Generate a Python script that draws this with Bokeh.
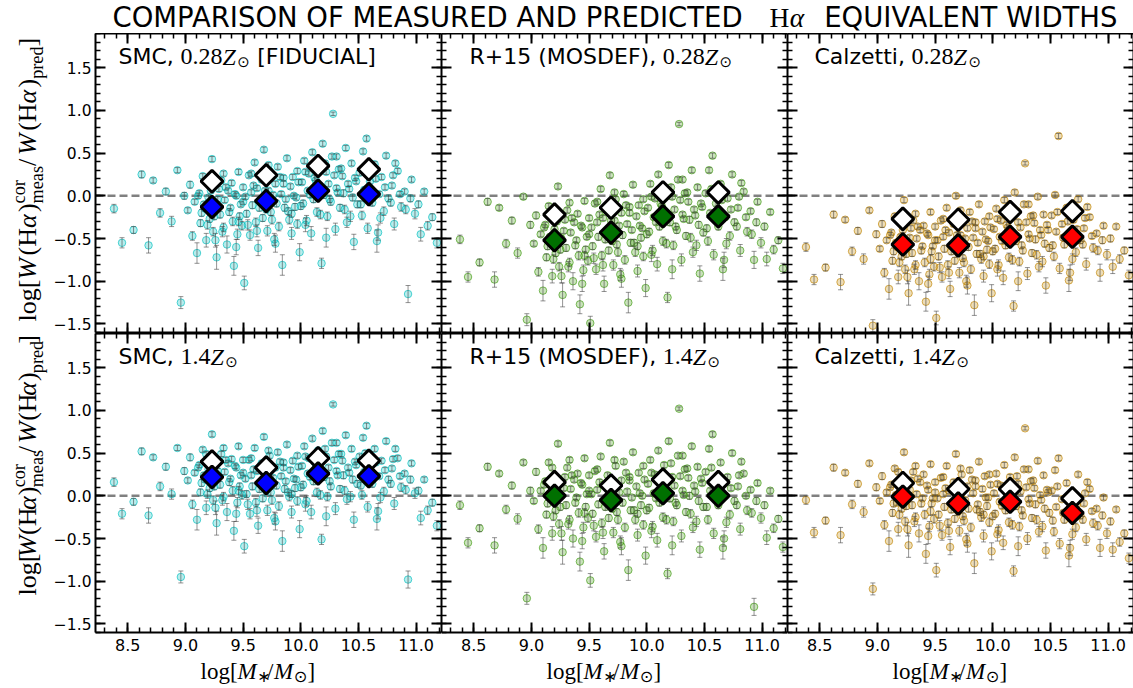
import math
from bokeh.plotting import figure
from bokeh.layouts import gridplot, column
from bokeh.models import (ColumnDataSource, FixedTicker, LinearAxis, Range1d,
                          Label, Span, CustomJSTickFormatter)
from bokeh.embed import file_html
from bokeh.resources import INLINE

# ------------------------------------------------------------------ data
log_mass = [8.38, 8.45, 8.55, 8.62, 8.68, 8.72, 8.78, 8.83, 8.88, 8.93, 8.96, 8.99,
            9.02, 9.04, 9.06, 9.08, 9.10, 9.12, 9.13, 9.15, 9.17, 9.18, 9.20, 9.21, 9.23, 9.24, 9.26,
            9.27, 9.29, 9.30, 9.31, 9.33, 9.34, 9.36, 9.37, 9.38, 9.40, 9.41, 9.42, 9.44, 9.45, 9.46,
            9.47, 9.48, 9.49, 9.50, 9.51,
            9.52, 9.53, 9.55, 9.56, 9.57, 9.58, 9.60, 9.61, 9.62, 9.63, 9.65, 9.66, 9.67, 9.68, 9.70,
            9.71, 9.72, 9.73, 9.74, 9.76, 9.77, 9.78, 9.79, 9.80, 9.81, 9.83, 9.84, 9.85, 9.86, 9.87,
            9.88, 9.90, 9.91, 9.92, 9.93, 9.95, 9.96, 9.97, 9.98, 9.99,
            10.01, 10.02, 10.03, 10.05, 10.06, 10.07, 10.09, 10.10, 10.11, 10.12, 10.14, 10.15, 10.16,
            10.18, 10.19, 10.20, 10.22, 10.23, 10.24, 10.26, 10.27, 10.28, 10.30, 10.31, 10.33, 10.34,
            10.36, 10.37, 10.39, 10.40, 10.42, 10.44, 10.46, 10.48, 10.49,
            10.51, 10.53, 10.55, 10.57, 10.58, 10.60, 10.62, 10.64, 10.66, 10.68, 10.70, 10.72, 10.74,
            10.76, 10.79, 10.81, 10.84, 10.87, 10.90, 10.93, 10.96, 10.99,
            11.02, 11.04, 11.07, 11.10, 11.14, 11.18,
            9.11, 9.14, 9.16, 9.19, 9.22, 9.25, 9.28, 9.32, 9.35, 9.39, 9.43, 9.46, 9.50,
            9.54, 9.59, 9.64, 9.69, 9.75, 9.82, 9.89, 9.94,
            10.00, 10.04, 10.08, 10.13, 10.17, 10.21, 10.25, 10.29, 10.32, 10.35, 10.38, 10.41, 10.45, 10.47,
            10.52, 10.56, 10.61, 10.65, 10.69, 10.73, 10.78, 10.82, 10.86, 10.91,
            9.18, 9.26, 9.33, 9.44, 9.57, 9.62, 9.72, 9.78, 9.85, 9.92, 9.97,
            10.04, 10.13, 10.22, 10.31, 10.43, 10.54, 10.67, 10.80, 10.95]

y_err = [0.05, 0.06, 0.04, 0.04, 0.09, 0.03, 0.05, 0.04, 0.06, 0.03, 0.07, 0.04,
         0.03, 0.04, 0.05, 0.03, 0.12, 0.03, 0.04, 0.03, 0.03, 0.08, 0.03, 0.04, 0.03, 0.05, 0.03,
         0.14, 0.03, 0.04, 0.03, 0.05, 0.03, 0.10, 0.03, 0.04, 0.03, 0.05, 0.11, 0.03, 0.06, 0.03,
         0.04, 0.03, 0.05, 0.03, 0.08,
         0.03, 0.04, 0.03, 0.06, 0.03, 0.04, 0.03, 0.05, 0.03, 0.09, 0.03, 0.03, 0.04, 0.03, 0.04,
         0.06, 0.03, 0.03, 0.04, 0.03, 0.07, 0.03, 0.04, 0.03, 0.05, 0.03, 0.12, 0.03, 0.04, 0.03,
         0.03, 0.05, 0.03, 0.07, 0.03, 0.04, 0.03, 0.05, 0.03, 0.10,
         0.03, 0.04, 0.03, 0.06, 0.03, 0.03, 0.08, 0.03, 0.04, 0.03, 0.05, 0.03, 0.03, 0.06, 0.03,
         0.04, 0.03, 0.05, 0.03, 0.04, 0.03, 0.02, 0.07, 0.03, 0.03, 0.04, 0.03, 0.04, 0.03, 0.06,
         0.03, 0.03, 0.09, 0.03, 0.04,
         0.03, 0.05, 0.03, 0.03, 0.06, 0.03, 0.04, 0.03, 0.13, 0.03, 0.03, 0.05, 0.03, 0.04, 0.03,
         0.07, 0.03, 0.05, 0.03, 0.10, 0.03, 0.06,
         0.04, 0.08, 0.03, 0.05, 0.04, 0.06,
         0.03, 0.04, 0.03, 0.05, 0.03, 0.04, 0.03, 0.06, 0.03, 0.03, 0.03, 0.05, 0.03,
         0.06, 0.03, 0.04, 0.03, 0.05, 0.03, 0.04, 0.03,
         0.04, 0.03, 0.03, 0.03, 0.05, 0.03, 0.04, 0.03, 0.03, 0.03, 0.05, 0.03, 0.04, 0.03,
         0.04, 0.03, 0.03, 0.03, 0.06, 0.03, 0.04, 0.03, 0.03, 0.05,
         0.03, 0.08, 0.03, 0.09, 0.03, 0.07, 0.03, 0.10, 0.03, 0.04, 0.03,
         0.08, 0.03, 0.11, 0.03, 0.06, 0.03, 0.09, 0.03, 0.04]

y_smc_028 = [-0.15, -0.55, -0.40, 0.25, -0.58, 0.18, -0.20, 0.05, -0.30, 0.30, -1.25, 0.00,
             -0.17, 0.13, -0.47, -0.07, -0.67, 0.03, -0.32, 0.23, -0.15, -0.52, -0.02, -0.27, 0.43,
             -0.42, -0.12, -0.72, 0.08, -0.22, 0.18, -0.37, -0.05, -0.57, 0.06, -0.19, 0.15, -0.30,
             -0.82, 0.00, -0.45, 0.28, -0.24, -0.10, -0.35, 0.10, -1.02,
             -0.01, -0.21, 0.24, -0.46, 0.04, -0.11, 0.39, -0.31, 0.09, -0.61, -0.06, 0.19, -0.26,
             0.54, -0.16, -0.41, 0.06, 0.29, -0.19, 0.01, -0.51, 0.14, -0.09, 0.34, -0.36, 0.02,
             -0.81, 0.21, -0.14, -0.04, 0.44, -0.28, 0.11, -0.44, 0.22, -0.13, -0.02, -0.33, 0.16, -0.66,
             0.16, -0.09, 0.41, -0.29, 0.06, 0.26, -0.44, 0.51, -0.04, 0.21, -0.19, 0.36, 0.11, -0.79,
             0.61, 0.01, 0.28, -0.24, 0.14, -0.07, 0.46, 0.96, -0.39, 0.09, 0.31, -0.14, 0.23, 0.03,
             0.56, -0.31, 0.08, 0.38, -0.54, 0.17, -0.10,
             0.27, -0.23, 0.07, 0.67, -0.38, 0.17, -0.08, 0.37, -0.53, 0.02, 0.22, -0.18, 0.47, -0.03,
             0.12, -0.33, 0.29, -0.13, 0.05, -1.15, 0.19, -0.21,
             -0.10, -0.45, 0.05, -0.35, -0.25, -0.55,
             0.00, -0.20, -0.10, -0.34, 0.06, -0.24, -0.04, -0.42, 0.10, -0.14, 0.02, -0.30, -0.07,
             -0.34, 0.12, -0.14, 0.06, -0.28, 0.22, -0.18, 0.00,
             -0.12, 0.28, 0.01, 0.18, -0.22, 0.38, -0.04, 0.24, 0.04, 0.32, -0.16, 0.14, -0.02, 0.21,
             -0.10, 0.32, 0.00, 0.20, -0.26, 0.10, -0.08, 0.38, 0.02, -0.16,
             0.18, -0.52, 0.26, -0.60, 0.26, -0.41, 0.36, -0.56, 0.14, -0.21, 0.29,
             -0.34, 0.11, -0.49, 0.46, -0.24, 0.52, -0.43, 0.24, -0.03]

y_r15_028 = [-0.51, -0.95, -0.78, -0.07, -0.98, -0.14, -0.56, -0.29, -0.67, -0.01, -1.45, -0.34,
             -0.56, -0.23, -0.89, -0.45, -1.11, -0.34, -0.72, -0.12, -0.53, -0.94, -0.39, -0.67, 0.11,
             -0.83, -0.50, -1.16, -0.28, -0.61, -0.17, -0.78, -0.43, -1.00, -0.31, -0.58, -0.21, -0.70,
             -1.27, -0.37, -0.87, -0.06, -0.63, -0.48, -0.76, -0.26, -1.49,
             -0.37, -0.59, -0.09, -0.86, -0.31, -0.48, 0.08, -0.70, -0.26, -1.03, -0.42, -0.15, -0.64,
             0.24, -0.53, -0.81, -0.29, -0.04, -0.57, -0.35, -0.92, -0.20, -0.46, 0.02, -0.75, -0.33,
             -1.25, -0.13, -0.55, -0.40, 0.13, -0.66, -0.24, -0.88, -0.11, -0.49, -0.38, -0.71, -0.18, -1.08,
             -0.14, -0.42, 0.14, -0.64, -0.25, -0.03, -0.80, 0.25, -0.36, -0.09, -0.53, 0.08, -0.20, -1.19,
             0.36, -0.31, -0.01, -0.58, -0.16, -0.40, 0.19, 0.84, -0.75, -0.22, 0.03, -0.47, -0.07, -0.28,
             0.30, -0.66, -0.23, 0.10, -0.91, -0.13, -0.43,
             0.03, -0.53, -0.20, 0.47, -0.69, -0.09, -0.36, 0.14, -0.86, -0.25, -0.03, -0.47, 0.25, -0.31,
             -0.14, -0.64, 0.05, -0.42, -0.18, -0.75, -0.07, -0.55,
             -0.36, -0.74, -0.19, -0.63, -0.52, -0.85,
             -0.37, -0.59, -0.48, -0.74, -0.30, -0.63, -0.41, -0.83, -0.26, -0.52, -0.35, -0.70, -0.45,
             -0.73, -0.22, -0.51, -0.29, -0.66, -0.11, -0.55, -0.35,
             -0.45, -0.01, -0.31, -0.12, -0.56, 0.10, -0.36, -0.05, -0.27, 0.04, -0.49, -0.16, -0.34, -0.09,
             -0.38, 0.08, -0.27, -0.05, -0.56, -0.16, -0.36, 0.15, -0.25, -0.45,
             -0.17, -0.94, -0.08, -1.03, -0.07, -0.81, 0.04, -0.97, -0.20, -0.59, -0.04,
             -0.69, -0.20, -0.86, 0.19, -0.58, 0.30, -0.75, -0.01, -0.31]

y_calz_028 = [-0.60, -0.98, -0.84, -0.22, -1.01, -0.28, -0.65, -0.41, -0.74, -0.17, -1.52, -0.45,
              -0.62, -0.33, -0.90, -0.52, -1.09, -0.43, -0.76, -0.24, -0.60, -0.95, -0.48, -0.71, -0.05,
              -0.86, -0.57, -1.14, -0.38, -0.67, -0.29, -0.81, -0.50, -1.00, -0.40, -0.64, -0.35, -0.78,
              -1.24, -0.46, -0.92, -0.19, -0.65, -0.59, -0.83, -0.36, -1.43,
              -0.52, -0.71, -0.29, -0.95, -0.48, -0.62, -0.14, -0.81, -0.43, -1.09, -0.57, -0.33, -0.76,
              0.00, -0.67, -0.90, -0.46, -0.24, -0.73, -0.50, -1.00, -0.38, -0.60, -0.19, -0.86, -0.49,
              -1.28, -0.31, -0.68, -0.55, -0.10, -0.74, -0.42, -0.94, -0.30, -0.63, -0.53, -0.80, -0.37, -1.14,
              -0.39, -0.62, -0.15, -0.81, -0.48, -0.29, -0.96, -0.05, -0.58, -0.34, -0.72, -0.20, -0.43, -1.29,
              0.04, -0.53, -0.31, -0.77, -0.37, -0.64, -0.10, 0.38, -0.91, -0.45, -0.24, -0.67, -0.32, -0.51,
              -0.01, -0.83, -0.46, -0.22, -1.05, -0.40, -0.61,
              -0.23, -0.71, -0.42, 0.70, -0.85, -0.33, -0.57, -0.14, -0.99, -0.47, -0.28, -0.66, -0.04, -0.52,
              -0.38, -0.80, -0.25, -0.61, -0.44, -0.90, -0.35, -0.69,
              -0.50, -0.83, -0.36, -0.74, -0.64, -0.93,
              -0.46, -0.65, -0.55, -0.78, -0.40, -0.68, -0.49, -0.86, -0.36, -0.59, -0.44, -0.74, -0.52,
              -0.84, -0.40, -0.65, -0.46, -0.78, -0.30, -0.68, -0.51,
              -0.65, -0.27, -0.53, -0.37, -0.75, -0.18, -0.58, -0.31, -0.50, -0.23, -0.69, -0.40, -0.56, -0.34,
              -0.58, -0.19, -0.49, -0.30, -0.74, -0.39, -0.57, -0.13, -0.47, -0.64,
              -0.29, -0.95, -0.21, -1.03, -0.27, -0.90, -0.17, -1.05, -0.38, -0.71, -0.24,
              -0.86, -0.43, -1.00, -0.10, -0.77, 0.01, -0.90, -0.26, -0.52]

y_smc_14 = [0.16, -0.21, -0.07, 0.52, -0.23, 0.45, 0.11, 0.34, 0.02, 0.56, -0.95, 0.29,
            0.18, 0.45, -0.10, 0.27, -0.28, 0.36, 0.04, 0.54, 0.19, -0.14, 0.31, 0.09, 0.72,
            -0.05, 0.22, -0.32, 0.40, 0.13, 0.49, -0.01, 0.28, -0.19, 0.38, 0.16, 0.43, 0.06,
            -0.41, 0.33, -0.08, 0.58, 0.11, 0.24, 0.01, 0.42, -0.59,
            0.20, 0.02, 0.42, -0.21, 0.24, 0.11, 0.56, -0.08, 0.29, -0.35, 0.15, 0.38, -0.03,
            0.69, 0.06, -0.17, 0.26, 0.47, 0.04, 0.21, -0.26, 0.33, 0.12, 0.51, -0.12, 0.23,
            -0.53, 0.39, 0.08, 0.17, 0.60, -0.01, 0.30, -0.19, 0.41, 0.09, 0.19, -0.06, 0.34, -0.39,
            0.35, 0.13, 0.58, -0.06, 0.26, 0.44, -0.19, 0.67, 0.17, 0.40, 0.04, 0.53, 0.31, -0.51,
            0.76, 0.22, 0.46, -0.01, 0.33, 0.11, 0.62, 1.07, -0.15, 0.29, 0.49, 0.08, 0.41, 0.24,
            0.71, -0.04, 0.27, 0.55, -0.28, 0.36, 0.14,
            0.46, 0.01, 0.28, 0.82, -0.13, 0.37, 0.14, 0.55, -0.27, 0.23, 0.41, 0.05, 0.64, 0.19,
            0.32, -0.09, 0.44, 0.10, 0.26, -0.98, 0.38, 0.03,
            0.06, -0.26, 0.19, -0.17, -0.08, -0.35,
            0.33, 0.15, 0.24, 0.02, 0.38, 0.11, 0.29, -0.05, 0.42, 0.20, 0.35, 0.06, 0.27,
            -0.10, 0.31, 0.08, 0.26, -0.05, 0.40, 0.04, 0.20,
            0.10, 0.46, 0.22, 0.37, 0.01, 0.55, 0.17, 0.42, 0.24, 0.49, 0.06, 0.33, 0.19, 0.40,
            0.12, 0.50, 0.21, 0.39, -0.02, 0.30, 0.14, 0.55, 0.23, 0.07,
            0.49, -0.14, 0.56, -0.21, 0.44, -0.17, 0.53, -0.30, 0.33, 0.02, 0.47,
            -0.10, 0.31, -0.24, 0.62, -0.01, 0.68, -0.18, 0.43, 0.19]

y_r15_14 = [-0.11, -0.55, -0.38, 0.34, -0.58, 0.26, -0.16, 0.12, -0.27, 0.39, -1.20, 0.06,
            -0.06, 0.28, -0.39, 0.06, -0.61, 0.17, -0.22, 0.39, -0.04, -0.44, 0.11, -0.17, 0.61,
            -0.33, 0.00, -0.66, 0.22, -0.11, 0.33, -0.28, 0.08, -0.50, 0.19, -0.08, 0.26, -0.20,
            -0.77, 0.13, -0.37, 0.44, -0.13, 0.02, -0.26, 0.24, -0.99,
            0.02, -0.21, 0.29, -0.48, 0.07, -0.10, 0.46, -0.32, 0.13, -0.65, -0.04, 0.24, -0.26,
            0.62, -0.15, -0.43, 0.09, 0.35, -0.19, 0.04, -0.54, 0.18, -0.08, 0.40, -0.37, 0.05,
            -0.87, 0.22, -0.17, -0.02, 0.51, -0.28, 0.11, -0.46, 0.27, -0.11, 0.00, -0.34, 0.19, -0.70,
            0.14, -0.14, 0.42, -0.36, 0.03, 0.25, -0.52, 0.53, -0.08, 0.20, -0.25, 0.36, 0.09, -0.91,
            0.64, -0.03, 0.22, -0.30, 0.12, -0.11, 0.47, 1.02, -0.47, 0.06, 0.31, -0.19, 0.21, 0.00,
            0.58, -0.37, 0.05, 0.34, -0.63, 0.15, -0.13,
            0.28, -0.28, 0.06, 0.72, -0.44, 0.17, -0.11, 0.39, -0.61, 0.00, 0.22, -0.22, 0.50, -0.06,
            0.11, -0.39, 0.26, -0.17, 0.07, -1.30, 0.15, -0.26,
            -0.11, -0.49, 0.06, -0.38, -0.27, -0.60,
            0.13, -0.09, 0.02, -0.24, 0.20, -0.13, 0.09, -0.33, 0.24, -0.02, 0.15, -0.20, 0.06,
            -0.35, 0.16, -0.13, 0.09, -0.28, 0.27, -0.17, 0.03,
            -0.17, 0.27, -0.03, 0.16, -0.28, 0.38, -0.08, 0.23, 0.01, 0.32, -0.21, 0.12, -0.06, 0.20,
            -0.13, 0.33, -0.02, 0.20, -0.31, 0.09, -0.11, 0.40, 0.00, -0.20,
            0.33, -0.44, 0.42, -0.53, 0.31, -0.43, 0.42, -0.59, 0.18, -0.21, 0.35,
            -0.41, 0.09, -0.58, 0.47, -0.30, 0.55, -0.50, 0.24, -0.06]

y_calz_14 = [-0.05, -0.43, -0.29, 0.33, -0.46, 0.27, -0.10, 0.14, -0.19, 0.38, -1.09, 0.10,
             -0.06, 0.23, -0.34, 0.04, -0.53, 0.13, -0.20, 0.32, -0.08, -0.39, 0.09, -0.15, 0.51,
             -0.30, -0.01, -0.58, 0.18, -0.11, 0.28, -0.25, 0.02, -0.44, 0.16, -0.09, 0.25, -0.22,
             -0.68, 0.07, -0.36, 0.37, -0.09, -0.03, -0.27, 0.16, -0.87,
             -0.03, -0.22, 0.21, -0.46, 0.02, -0.13, 0.35, -0.32, 0.06, -0.60, -0.08, 0.16, -0.27,
             0.49, -0.18, -0.41, 0.00, 0.25, -0.24, -0.05, -0.51, 0.11, -0.15, 0.30, -0.37, 0.03,
             -0.79, 0.18, -0.16, -0.10, 0.40, -0.25, 0.08, -0.47, 0.23, -0.12, -0.02, -0.31, 0.13, -0.65,
             0.03, -0.21, 0.26, -0.40, -0.07, 0.12, -0.55, 0.36, -0.17, 0.07, -0.31, 0.22, -0.02, -0.88,
             0.45, -0.12, 0.14, -0.36, 0.05, -0.23, 0.31, 0.79, -0.50, -0.04, 0.17, -0.26, 0.09, -0.10,
             0.41, -0.42, -0.05, 0.24, -0.64, 0.04, -0.20,
             0.06, -0.42, -0.13, 0.44, -0.56, -0.04, -0.28, 0.15, -0.70, -0.18, 0.01, -0.37, 0.25, -0.23,
             -0.09, -0.51, 0.08, -0.32, -0.15, -0.61, -0.02, -0.44,
             -0.30, -0.63, -0.16, -0.54, -0.44, -0.73,
             0.10, -0.09, 0.01, -0.22, 0.16, -0.12, 0.07, -0.30, 0.20, -0.03, 0.12, -0.18, 0.04,
             -0.35, 0.09, -0.16, 0.03, -0.29, 0.19, -0.19, -0.02,
             -0.24, 0.14, -0.12, 0.04, -0.34, 0.23, -0.17, 0.10, -0.09, 0.18, -0.28, 0.01, -0.15, 0.07,
             -0.29, 0.11, -0.20, -0.01, -0.45, -0.10, -0.28, 0.16, -0.18, -0.35,
             0.28, -0.39, 0.35, -0.47, 0.22, -0.41, 0.32, -0.56, 0.11, -0.22, 0.25,
             -0.45, -0.02, -0.59, 0.31, -0.36, 0.30, -0.61, 0.03, -0.23]

bin_mass_smc = [9.23, 9.70, 10.15, 10.59]
bin_mass_r15 = [9.20, 9.69, 10.14, 10.62]
bin_mass_calz = [9.22, 9.70, 10.15, 10.69]

open_smc_028 = [0.17, 0.24, 0.35, 0.31]
med_smc_028 = [-0.13, -0.06, 0.06, 0.02]
open_r15_028 = [-0.22, -0.14, 0.04, 0.04]
med_r15_028 = [-0.52, -0.43, -0.24, -0.24]
open_calz_028 = [-0.27, -0.28, -0.19, -0.18]
med_calz_028 = [-0.57, -0.58, -0.48, -0.48]
open_smc_14 = [0.40, 0.33, 0.44, 0.41]
med_smc_14 = [0.22, 0.15, 0.26, 0.23]
open_r15_14 = [0.16, 0.12, 0.19, 0.16]
med_r15_14 = [0.00, -0.05, 0.03, 0.00]
open_calz_14 = [0.15, 0.08, 0.08, -0.03]
med_calz_14 = [-0.01, -0.09, -0.07, -0.20]

x_ticks = [8.5, 9.0, 9.5, 10.0, 10.5, 11.0]
y_ticks = [-1.5, -1.0, -0.5, 0.0, 0.5, 1.0, 1.5]
x_minor = [round(8.3 + 0.1 * i, 1) for i in range(30)]
y_minor = [round(-1.6 + 0.1 * i, 1) for i in range(36)]

title_left = "COMPARISON OF MEASURED AND PREDICTED"
title_right = "EQUIVALENT WIDTHS"

# ------------------------------------------------------------------ layout constants
XL, XR, YB, YT = 8.22, 11.22, -1.6, 1.9
FW, FH = 346, 299
SX = FW / (XR - XL)
SY = FH / (YT - YB)
SANS = "DejaVu Sans"
SERIF = "Liberation Serif"
YLW = 50          # width of the y-label strip
TITLE_H = 33
TOP_GAP = 1       # bottom border of upper panels (room for the lowest tick label)
BOT_B = 26        # bottom border (tick labels) of lower panels
XLAB_H = 688 - TITLE_H - 2 * (FH + 1) - TOP_GAP - BOT_B
BL_FIX = 8        # observed downward shift of alphabetic-baseline labels


def dx(off):
    return XL + off / SX


def dy(off):
    return YT - off / SY


def lab(p, text, x, y, size, font=SANS, style="normal", angle=0.0, align="left",
        baseline="alphabetic"):
    p.add_layout(Label(x=x, y=y, text=text, text_font=font,
                       text_font_size=f"{size:.1f}px", text_font_style=style,
                       text_color="black", angle=angle, text_align=align,
                       text_baseline=baseline))


def strip(w, h):
    f = figure(width=w, height=h, x_range=Range1d(0, w), y_range=Range1d(0, h),
               output_backend="svg", toolbar_location=None,
               x_axis_location=None, y_axis_location=None, min_border=0)
    f.outline_line_color = None
    f.grid.visible = False
    return f


def style_axis(ax, ticks, minor, show, standoff, size):
    ax.ticker = FixedTicker(ticks=ticks, minor_ticks=minor)
    ax.major_tick_in = 10
    ax.major_tick_out = 0
    ax.minor_tick_in = 5
    ax.minor_tick_out = 0
    ax.axis_line_width = 2
    ax.axis_line_color = "black"
    ax.major_tick_line_width = 2
    ax.major_tick_line_color = "black"
    ax.minor_tick_line_width = 1.5
    ax.minor_tick_line_color = "black"
    if show:
        ax.formatter = CustomJSTickFormatter(
            code="return tick.toFixed(1).replace('-', '\u2212');")
        ax.major_label_text_font = SANS
        ax.major_label_text_font_size = size
        ax.major_label_text_color = "black"
        ax.major_label_standoff = standoff
    else:
        ax.formatter = CustomJSTickFormatter(code="return '';")
        ax.major_label_text_font_size = "0px"
        ax.major_label_standoff = 0


panels = [
    dict(ys=y_smc_028, bx=bin_mass_smc, oy=open_smc_028, fy=med_smc_028,
         pc="#00bfbf", dc="#0000ff", name="SMC,", met="0.28", extra="[FIDUCIAL]"),
    dict(ys=y_r15_028, bx=bin_mass_r15, oy=open_r15_028, fy=med_r15_028,
         pc="#3f9a10", dc="#007000", name="R+15 (MOSDEF),", met="0.28", extra=None),
    dict(ys=y_calz_028, bx=bin_mass_calz, oy=open_calz_028, fy=med_calz_028,
         pc="#c08400", dc="#ff0000", name="Calzetti,", met="0.28", extra=None),
    dict(ys=y_smc_14, bx=bin_mass_smc, oy=open_smc_14, fy=med_smc_14,
         pc="#00bfbf", dc="#0000ff", name="SMC,", met="1.4", extra=None),
    dict(ys=y_r15_14, bx=bin_mass_r15, oy=open_r15_14, fy=med_r15_14,
         pc="#3f9a10", dc="#007000", name="R+15 (MOSDEF),", met="1.4", extra=None),
    dict(ys=y_calz_14, bx=bin_mass_calz, oy=open_calz_14, fy=med_calz_14,
         pc="#c08400", dc="#ff0000", name="Calzetti,", met="1.4", extra=None),
]

SANS_W = {"SMC,": 2.514, "R+15 (MOSDEF),": 8.483, "Calzetti,": 4.109}
NAME_OFF = {"SMC,": 23, "R+15 (MOSDEF),": 28, "Calzetti,": 27}

YLAB = [("log[", "normal", 1.0, 0.0, 1.611), ("W", "italic", 1.0, 0.0, 0.94),
        ("(H", "normal", 1.0, 0.0, 1.055), ("\u03b1", "italic", 1.0, 0.0, 0.62),
        (")", "normal", 1.0, 0.0, 0.333), ("cor", "normal", 0.7, 0.42, 0.0),
        ("meas", "normal", 0.7, -0.25, 1.44), ("/", "normal", 1.0, 0.0, 0.42),
        ("W", "italic", 1.0, 0.0, 0.94), ("(H", "normal", 1.0, 0.0, 1.055),
        ("\u03b1", "italic", 1.0, 0.0, 0.62), (")", "normal", 1.0, 0.0, 0.333),
        ("pred", "normal", 0.7, -0.25, 1.244), ("]", "normal", 1.0, 0.0, 0.333)]

XLAB = [("log[", "normal", 1.0, 0.0, 1.611), ("M", "italic", 1.0, 0.0, 0.86),
        ("\u2217", "normal", 0.7, -0.22, 0.42), ("/", "normal", 1.0, 0.0, 0.30),
        ("M", "italic", 1.0, 0.0, 0.86), ("\u2299", "normal", 0.7, -0.22, 0.60),
        ("]", "normal", 1.0, 0.0, 0.333)]


def make_panel(idx, cfg):
    row, col = divmod(idx, 3)
    left = col == 0
    bottom = row == 1
    p = figure(frame_width=FW, frame_height=FH,
               x_range=Range1d(XL, XR), y_range=Range1d(YB, YT),
               output_backend="svg", toolbar_location=None,
               x_axis_location=None, y_axis_location=None,
               min_border_left=(87 - YLW) if left else 0,
               min_border_right=8 if col == 2 else 0,
               min_border_top=0, min_border_bottom=BOT_B if bottom else TOP_GAP,
               background_fill_color="white", border_fill_color="white")
    p.outline_line_color = None
    p.grid.visible = False

    for loc in ("below", "above", "left", "right"):
        ax = LinearAxis()
        if loc in ("below", "above"):
            style_axis(ax, x_ticks, x_minor, show=(loc == "below" and bottom),
                       standoff=6, size="16px")
        else:
            style_axis(ax, y_ticks, y_minor, show=(loc == "left" and left),
                       standoff=4, size="15.5px")
        p.add_layout(ax, loc)

    p.add_layout(Span(location=0, dimension="width", line_color="#808080",
                      line_dash="8 4", line_width=2.5, level="underlay"))

    lo = [y - e for y, e in zip(cfg["ys"], y_err)]
    hi = [y + e for y, e in zip(cfg["ys"], y_err)]
    src = ColumnDataSource(dict(x=log_mass, y=cfg["ys"], lo=lo, hi=hi))
    c = cfg["pc"]
    p.scatter(x="x", y="y", source=src, marker="circle", size=7.5,
              fill_color=c, fill_alpha=0.28, line_color=c, line_alpha=0.65, line_width=1)
    p.segment(x0="x", y0="lo", x1="x", y1="hi", source=src,
              line_color="#3a3a3a", line_alpha=0.55, line_width=1)
    p.scatter(x="x", y="lo", source=src, marker="dash", size=5,
              line_color="#3a3a3a", line_alpha=0.55, line_width=1)
    p.scatter(x="x", y="hi", source=src, marker="dash", size=5,
              line_color="#3a3a3a", line_alpha=0.55, line_width=1)

    p.scatter(x=cfg["bx"], y=cfg["oy"], marker="square", angle=math.pi / 4, size=15.5,
              fill_color="white", line_color="black", line_width=3)
    p.scatter(x=cfg["bx"], y=cfg["fy"], marker="square", angle=math.pi / 4, size=15.5,
              fill_color=cfg["dc"], line_color="black", line_width=3)

    # panel annotation (baseline ~31 px below the frame top)
    base = 31 - BL_FIX
    S, M = 22, 24
    nx = NAME_OFF[cfg["name"]]
    lab(p, cfg["name"], dx(nx), dy(base), S)
    mx = nx + SANS_W[cfg["name"]] * S + 0.3 * S
    lab(p, cfg["met"], dx(mx), dy(base), M, SERIF)
    zx = mx + sum(0.25 if ch == "." else 0.5 for ch in cfg["met"]) * M
    lab(p, "Z", dx(zx), dy(base), M, SERIF, "italic")
    ox = zx + 0.62 * M
    lab(p, "\u2299", dx(ox), dy(base + 5), 15, SANS)
    if cfg["extra"]:
        lab(p, cfg["extra"], dx(ox + 0.6 * 15 + 0.5 * S), dy(base), S)
    return p


def ylabel_strip(start_from_top):
    f = strip(YLW, FH)
    YS = 26
    BASE_X = 36
    cur = start_from_top
    for text, style, sc, shift, adv in YLAB:
        bxl = BASE_X - shift * YS
        cx = bxl - 0.35 * YS * sc
        lab(f, text, cx, FH - cur, YS * sc, SERIF, style, angle=math.pi / 2,
            baseline="middle")
        cur -= adv * YS
    return f


figs = [make_panel(i, cfg) for i, cfg in enumerate(panels)]
ylab_top = ylabel_strip(289)
ylab_bot = ylabel_strip(287)
grid = gridplot([[ylab_top] + figs[0:3], [ylab_bot] + figs[3:6]], toolbar_location=None)

# x-axis label strip (baseline ~21 px below the strip top)
xs = strip(1133, XLAB_H)
XS = 23
xb = XLAB_H - (21 - BL_FIX)
for frame_left in (87, 87 + FW, 87 + 2 * FW):
    cur = frame_left + 113
    for text, style, sc, shift, adv in XLAB:
        font = SANS if text in ("\u2217", "\u2299") else SERIF
        lab(xs, text, cur, xb + shift * XS, XS * sc, font, style)
        cur += adv * XS

# title strip (baseline ~24.5 px below the page top)
tf = strip(1133, TITLE_H)
TS = 27.5
TB = TITLE_H - (24.5 - BL_FIX)
lab(tf, title_left, 112, TB, TS, SANS)
hx = 112 + 23.45 * TS + 12
lab(tf, "H", hx, TB, TS, SERIF)
lab(tf, "\u03b1", hx + 0.74 * TS, TB, TS, SERIF, "italic")
lab(tf, title_right, 1117, TB, TS, SANS, align="right")

layout = column(tf, grid, xs)
open("out.html", "w").write(file_html(layout, INLINE))
